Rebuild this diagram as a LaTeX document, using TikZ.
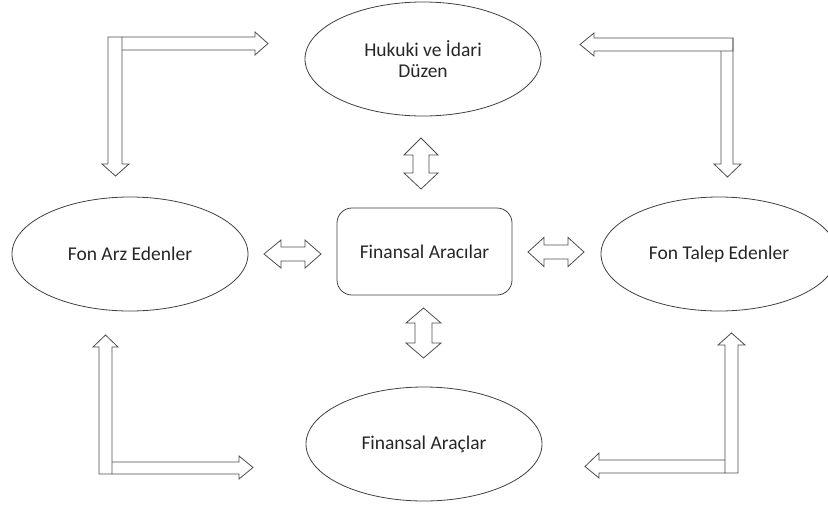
\documentclass[tikz,border=0pt]{standalone}
\usepackage{fontspec}
\setmainfont{Carlito}
\usetikzlibrary{positioning,shapes.geometric}

\tikzset{
  oval/.style={draw=black!75, line width=0.8pt, ellipse, minimum width=236pt, minimum height=114pt,
    inner sep=0pt, align=center, text=black!85, font=\fontsize{19.5}{21}\selectfont},
  midbox/.style={draw=black!75, line width=0.8pt, rounded corners=15pt, minimum width=175pt,
    minimum height=87pt, text=black!85, font=\fontsize{19.5}{21}\selectfont},
  blockarrow/.style={draw=black!70, line width=0.8pt, line join=miter}
}

\begin{document}
\begin{tikzpicture}[x=1pt, y=-1pt]
	\useasboundingbox (0,0) rectangle (828,504);
	% the five parts
	\node [oval] (duzen) at (423,59) {Hukuki ve İdari\\Düzen};
	\node [oval] (arz) at (130,254) {Fon Arz Edenler};
	\node [oval] (talep) at (719,254) {Fon Talep Edenler};
	\node [oval] (araclar) at (424,444) {Finansal Araçlar};
	\node [midbox] (aracilar) at (424.5,251.5) {Finansal Aracılar};

	% top left
	\draw [blockarrow] (108,37) -- (122,37) -- (122,164) -- (129,164) -- (115.5,176) -- (102,164) -- (108,164) -- cycle;
	\draw [blockarrow] (122,37) -- (255,37) -- (255,32) -- (268,43.5) -- (255,55) -- (255,50) -- (122,50);
	% top right
	\draw [blockarrow] (733,38) -- (733,164) -- (741,164) -- (727.5,177) -- (714,164) -- (721,164) -- (721,51);
	\draw [blockarrow] (733,38) -- (594,38) -- (594,33) -- (580,44.5) -- (594,56) -- (594,51) -- (733,51) -- cycle;
	% bottom left
	\draw [blockarrow] (99,474) -- (99,347) -- (93,347) -- (105.5,335) -- (118,347) -- (112,347) -- (112,474) -- cycle;
	\draw [blockarrow] (112,462) -- (239,462) -- (239,456) -- (253,467.5) -- (239,479) -- (239,474) -- (112,474);
	% bottom right
	\draw [blockarrow] (725,473) -- (725,345) -- (718,345) -- (731.5,333) -- (745,345) -- (738,345) -- (738,473) -- cycle;
	\draw [blockarrow] (725,460) -- (599,460) -- (599,453) -- (585,466.5) -- (599,478) -- (599,473) -- (725,473);

	% double arrows round the middle
	\draw [blockarrow] (264,254) -- (281,240) -- (281,247) -- (305,247) -- (305,240) -- (321,254)
		-- (305,268) -- (305,261) -- (281,261) -- (281,268) -- cycle;
	\draw [blockarrow] (528,252) -- (544,237.5) -- (544,245) -- (568,245) -- (568,237.5) -- (584,252)
		-- (568,266.5) -- (568,259) -- (544,259) -- (544,266.5) -- cycle;
	\draw [blockarrow] (421,138) -- (438,155) -- (429,155) -- (429,173) -- (438,173) -- (421,189)
		-- (404,173) -- (413,173) -- (413,155) -- (404,155) -- cycle;
	\draw [blockarrow] (423.5,308) -- (441,323) -- (432,323) -- (432,343) -- (441,343) -- (423.5,358)
		-- (406,343) -- (415,343) -- (415,323) -- (406,323) -- cycle;
\end{tikzpicture}
\end{document}
